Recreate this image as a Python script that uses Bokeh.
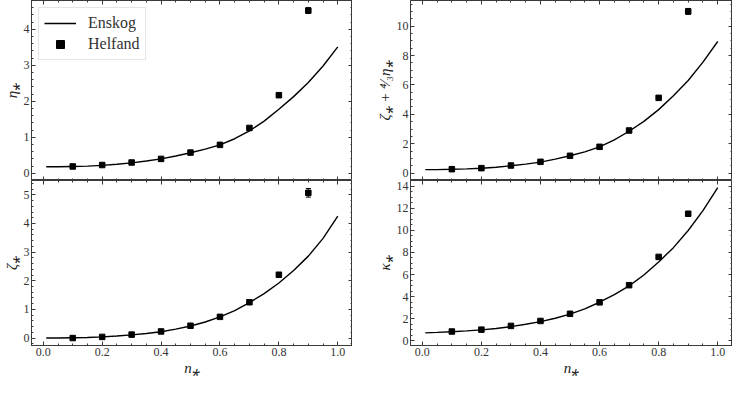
from bokeh.plotting import figure
from bokeh.models import (Range1d, LinearAxis, SingleIntervalTicker, Whisker, TeeHead,
                          ColumnDataSource, Legend, LegendItem, NumeralTickFormatter,
                          CustomLabelingPolicy)
from bokeh.layouts import column, row
from bokeh.embed import file_html
from bokeh.resources import INLINE

# ---------------- data ----------------
x_line = [0.01, 0.05, 0.10, 0.15, 0.20, 0.25, 0.30, 0.35, 0.40, 0.45, 0.50,
          0.55, 0.60, 0.65, 0.70, 0.75, 0.80, 0.85, 0.90, 0.95, 1.00]
eta_line = [0.18, 0.18, 0.19, 0.20, 0.22, 0.25, 0.29, 0.34, 0.40, 0.48, 0.57,
            0.67, 0.79, 0.96, 1.18, 1.45, 1.78, 2.13, 2.52, 2.98, 3.51]
zeta_line = [0.00, 0.00, 0.01, 0.02, 0.04, 0.07, 0.11, 0.16, 0.22, 0.31, 0.42,
             0.56, 0.74, 0.96, 1.24, 1.55, 1.92, 2.36, 2.86, 3.48, 4.26]
zp_line = [0.24, 0.24, 0.26, 0.29, 0.33, 0.40, 0.50, 0.61, 0.75, 0.95, 1.18,
           1.45, 1.79, 2.26, 2.85, 3.52, 4.32, 5.27, 6.30, 7.55, 8.95]
kappa_line = [0.70, 0.74, 0.80, 0.88, 0.97, 1.10, 1.27, 1.48, 1.72, 2.03, 2.40,
              2.88, 3.48, 4.18, 4.97, 5.96, 7.14, 8.44, 10.0, 11.8, 13.9]

x_pts = [0.1, 0.2, 0.3, 0.4, 0.5, 0.6, 0.7, 0.8, 0.9]
eta_pts = [0.19, 0.23, 0.30, 0.40, 0.575, 0.79, 1.26, 2.17, 4.52]
eta_err = [0.005, 0.005, 0.005, 0.01, 0.01, 0.015, 0.03, 0.04, 0.08]
zeta_pts = [0.00, 0.04, 0.12, 0.23, 0.43, 0.74, 1.25, 2.21, 5.07]
zeta_err = [0.005, 0.005, 0.005, 0.01, 0.01, 0.02, 0.03, 0.05, 0.15]
zp_pts = [0.27, 0.34, 0.52, 0.77, 1.18, 1.79, 2.90, 5.12, 11.0]
zp_err = [0.01, 0.01, 0.01, 0.02, 0.02, 0.03, 0.05, 0.08, 0.20]
kappa_pts = [0.82, 0.99, 1.33, 1.78, 2.43, 3.47, 5.03, 7.60, 11.52]
kappa_err = [0.01, 0.01, 0.01, 0.02, 0.02, 0.03, 0.05, 0.08, 0.10]

x_label = "n\u204e"
y_labels = ["\u03b7\u204e", "\u03b6\u204e", "\u03b6\u204e + \u2074\u2044\u2083\u03b7\u204e", "\u03ba\u204e"]
series_names = ["Enskog", "Helfand"]

FONT = "Liberation Serif"
AX = "#3a3a3a"

NO_LABELS = CustomLabelingPolicy(code="return new indices.constructor(indices.size);")


def style_axis(ax, show_labels, label=None):
    ax.axis_line_color = AX
    ax.major_tick_line_color = AX
    ax.minor_tick_line_color = AX
    ax.major_tick_in = 4
    ax.major_tick_out = 0
    ax.minor_tick_in = 2
    ax.minor_tick_out = 0
    ax.major_label_text_font = FONT
    ax.major_label_text_color = "#333333"
    if show_labels:
        ax.major_label_text_font_size = "12px"
        ax.major_label_standoff = 2
    else:
        ax.major_label_text_font_size = "0px"
        ax.major_label_standoff = 0
        ax.major_label_policy = NO_LABELS
    if label:
        ax.axis_label = label
        ax.axis_label_text_font = FONT
        ax.axis_label_text_font_style = "italic"
        ax.axis_label_text_font_size = "15px"
        ax.axis_label_text_color = "#222222"
        ax.axis_label_standoff = 1


def make(yline, ypts, yerr, yrange, yint, yminor, ylabel, top, left, legend=False):
    width = 352 if left else 380
    height = 180 if top else 198
    p = figure(width=width, height=height, output_backend="svg", toolbar_location=None,
               x_range=Range1d(-0.04, 1.05), y_range=Range1d(*yrange),
               min_border_left=19 if left else 58,
               min_border_right=0,
               min_border_top=0,
               min_border_bottom=0 if top else 26)
    p.xgrid.visible = False
    p.ygrid.visible = False
    p.outline_line_color = AX
    p.background_fill_color = "white"
    p.border_fill_color = "white"

    xt = SingleIntervalTicker(interval=0.2, num_minor_ticks=4)
    yt = SingleIntervalTicker(interval=yint, num_minor_ticks=yminor)
    p.xaxis.ticker = xt
    p.yaxis.ticker = yt
    p.xaxis.formatter = NumeralTickFormatter(format="0.0")
    style_axis(p.xaxis[0], not top, None if top else x_label)
    style_axis(p.yaxis[0], True, ylabel)

    ax_r = LinearAxis(ticker=yt)
    style_axis(ax_r, False)
    p.add_layout(ax_r, "right")
    ax_t = LinearAxis(ticker=xt)
    style_axis(ax_t, False)
    p.add_layout(ax_t, "above")

    lr = p.line(x_line, yline, line_color="black", line_width=1.4)

    src = ColumnDataSource(dict(x=x_pts, y=ypts,
                                lo=[a - b for a, b in zip(ypts, yerr)],
                                hi=[a + b for a, b in zip(ypts, yerr)]))
    wh = Whisker(source=src, base="x", upper="hi", lower="lo", line_color="black",
                 line_width=1,
                 upper_head=TeeHead(size=5, line_color="black", line_width=1),
                 lower_head=TeeHead(size=5, line_color="black", line_width=1))
    p.add_layout(wh)
    sr = p.scatter("x", "y", source=src, marker="square", size=5.5, color="black")

    if legend:
        leg = Legend(items=[LegendItem(label=series_names[0], renderers=[lr]),
                            LegendItem(label=series_names[1], renderers=[sr])],
                     location="top_left")
        leg.label_text_font = FONT
        leg.label_text_font_size = "16px"
        leg.label_text_color = "#333333"
        leg.border_line_color = "#cccccc"
        leg.background_fill_alpha = 0.85
        leg.glyph_width = 32
        leg.spacing = 1
        leg.padding = 5
        leg.margin = 7
        leg.label_standoff = 12
        p.add_layout(leg)
    return p


p1 = make(eta_line, eta_pts, eta_err, (-0.2, 4.80), 1, 5, y_labels[0], True, True, legend=True)
p2 = make(zp_line, zp_pts, zp_err, (-0.5, 11.74), 2, 4, y_labels[2], True, False)
p3 = make(zeta_line, zeta_pts, zeta_err, (-0.26, 5.50), 1, 5, y_labels[1], False, True)
p4 = make(kappa_line, kappa_pts, kappa_err, (-0.45, 14.54), 2, 4, y_labels[3], False, False)

layout = column(row(p1, p2), row(p3, p4))
open("out.html", "w").write(file_html(layout, INLINE))
